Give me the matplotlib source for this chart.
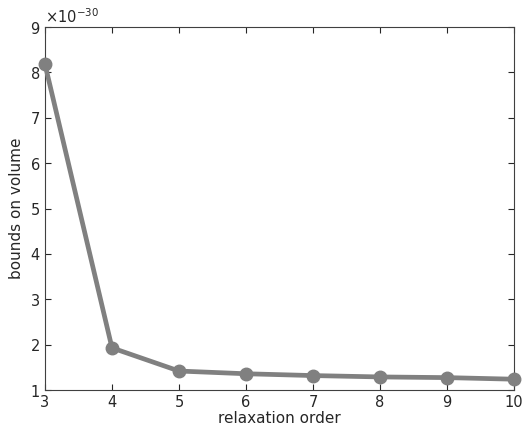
import matplotlib
matplotlib.use("Agg")
import matplotlib.pyplot as plt
from matplotlib.ticker import ScalarFormatter

order = [3, 4, 5, 6, 7, 8, 9, 10]
bounds = [8.18e-30, 1.93e-30, 1.42e-30, 1.36e-30, 1.32e-30, 1.29e-30, 1.275e-30, 1.24e-30]

plt.rcParams['font.family'] = ['DejaVu Sans']
plt.rcParams['axes.unicode_minus'] = False
fig = plt.figure(figsize=(5.23, 4.32), dpi=100)
ax = fig.add_axes([0.086, 0.097, 0.897, 0.8405])
ax.plot(order, bounds, color='#808080', lw=3.4, marker='o', ms=9,
        markerfacecolor='#808080', markeredgecolor='#808080', clip_on=False, zorder=3)
ax.set_xlim(3, 10)
ax.set_ylim(1e-30, 9e-30)
ax.set_xticks(range(3, 11))
ax.set_yticks([i * 1e-30 for i in range(1, 10)])
fmt = ScalarFormatter(useMathText=True)
fmt.set_powerlimits((0, 0))
ax.yaxis.set_major_formatter(fmt)
ax.tick_params(direction='in', top=True, right=True, labelsize=10.5, colors='#262626',
               length=4, width=0.8)
for s in ax.spines.values():
    s.set_color('#404040')
    s.set_linewidth(0.8)
ax.yaxis.get_offset_text().set_fontsize(10.5)
ax.yaxis.get_offset_text().set_color('#262626')
ax.set_xlabel('relaxation order', fontsize=11, color='#262626', labelpad=1)
ax.set_ylabel('bounds on volume', fontsize=11, color='#262626', labelpad=4)
fig.savefig('out.png', dpi=100)
